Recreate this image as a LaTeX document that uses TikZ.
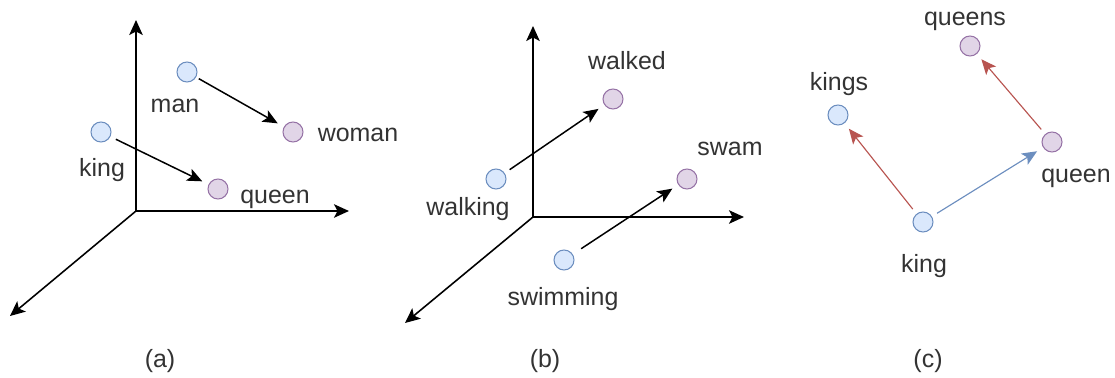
\documentclass[tikz,border=0pt]{standalone}
\usepackage{fontspec}
\setmainfont{Liberation Sans}
\usepackage{xcolor}
\usepackage{tikz}
\usetikzlibrary{arrows.meta}
\definecolor{wordline}{HTML}{6C8EBF}
\definecolor{wordfill}{HTML}{DAE8FC}
\definecolor{formline}{HTML}{9673A6}
\definecolor{formfill}{HTML}{E1D5E7}
\definecolor{offset}{HTML}{B85450}
\definecolor{ink}{HTML}{333333}

\begin{document}
\begin{tikzpicture}[x=0.02cm,y=-0.02cm,
    src/.style={circle,draw=wordline,fill=wordfill,line width=0.6pt,minimum size=0.4cm,inner sep=0pt},
    tgt/.style={circle,draw=formline,fill=formfill,line width=0.6pt,minimum size=0.4cm,inner sep=0pt},
    lbl/.style={anchor=base,text=ink,inner sep=0pt,font=\fontsize{14.2}{17}\selectfont},
    axisline/.style={line width=0.9pt,-{Stealth[length=0.3cm,width=0.27cm,inset=0.07cm]}},
    move/.style={line width=0.85pt,shorten <=0.12cm,shorten >=0.14cm,
                 -{Stealth[length=0.3cm,width=0.26cm,inset=0.07cm]}}]
      \useasboundingbox (0,0) rectangle (1115,378);
      % (a) analogy man/woman, king/queen
      \coordinate (oa) at (136,211);
      \coordinate (ya) at (136,20);
      \coordinate (xa) at (349,211);
      \coordinate (za) at (10,316);
      \draw[axisline] (oa) -- (ya);
      \draw[axisline] (oa) -- (xa);
      \draw[axisline] (oa) -- (za);
      \node[src] (man) at (187,72) {};
      \node[tgt] (woman) at (293,132) {};
      \node[src] (king) at (101,132) {};
      \node[tgt] (queen) at (218,189) {};
      \draw[move,shorten <=0.06cm] (man) -- (woman);
      \draw[move] (king) -- (queen);
      \node[lbl] (manlbl) at (175,113) {man};
      \node[lbl] (womanlbl) at (358,142) {woman};
      \node[lbl] (kinglbl) at (102,177) {king};
      \node[lbl] (queenlbl) at (275,204) {queen};
      % (b) tense
      \coordinate (ob) at (533,217);
      \coordinate (yb) at (533,26);
      \coordinate (xb) at (744,217);
      \coordinate (zb) at (405,323);
      \draw[axisline] (ob) -- (yb);
      \draw[axisline] (ob) -- (xb);
      \draw[axisline] (ob) -- (zb);
      \node[src] (walking) at (496,179) {};
      \node[tgt] (walked) at (613,99) {};
      \node[src] (swimming) at (564,260) {};
      \node[tgt] (swam) at (687,179) {};
      \draw[move] (walking) -- (walked);
      \draw[move,shorten <=0.2cm] (swimming) -- (swam);
      \node[lbl] (walkedlbl) at (627,70) {walked};
      \node[lbl] (walkinglbl) at (468,215) {walking};
      \node[lbl] (swamlbl) at (730,156) {swam};
      \node[lbl] (swimminglbl) at (563,305) {swimming};
      % (c) plural and gender offsets
      \node[src] (kingc) at (923,222) {};
      \node[src] (kings) at (838,115) {};
      \node[tgt] (queenc) at (1052,142) {};
      \node[tgt] (queens) at (970,46) {};
      \draw[move,line width=0.65pt,offset] (kingc) -- (kings);
      \draw[move,line width=0.65pt,offset] (queenc) -- (queens);
      \draw[move,line width=0.65pt,wordline] (kingc) -- (queenc);
      \node[lbl] (kingclbl) at (924,272) {king};
      \node[lbl] (kingslbl) at (839,91) {kings};
      \node[lbl] (queenclbl) at (1076,183) {queen};
      \node[lbl] (queenslbl) at (965,26) {queens};
      \foreach \n/\x in {a/160,b/545,c/928}
        \node[lbl] (cap\n) at (\x,367) {(\n)};
    \end{tikzpicture}
\end{document}
